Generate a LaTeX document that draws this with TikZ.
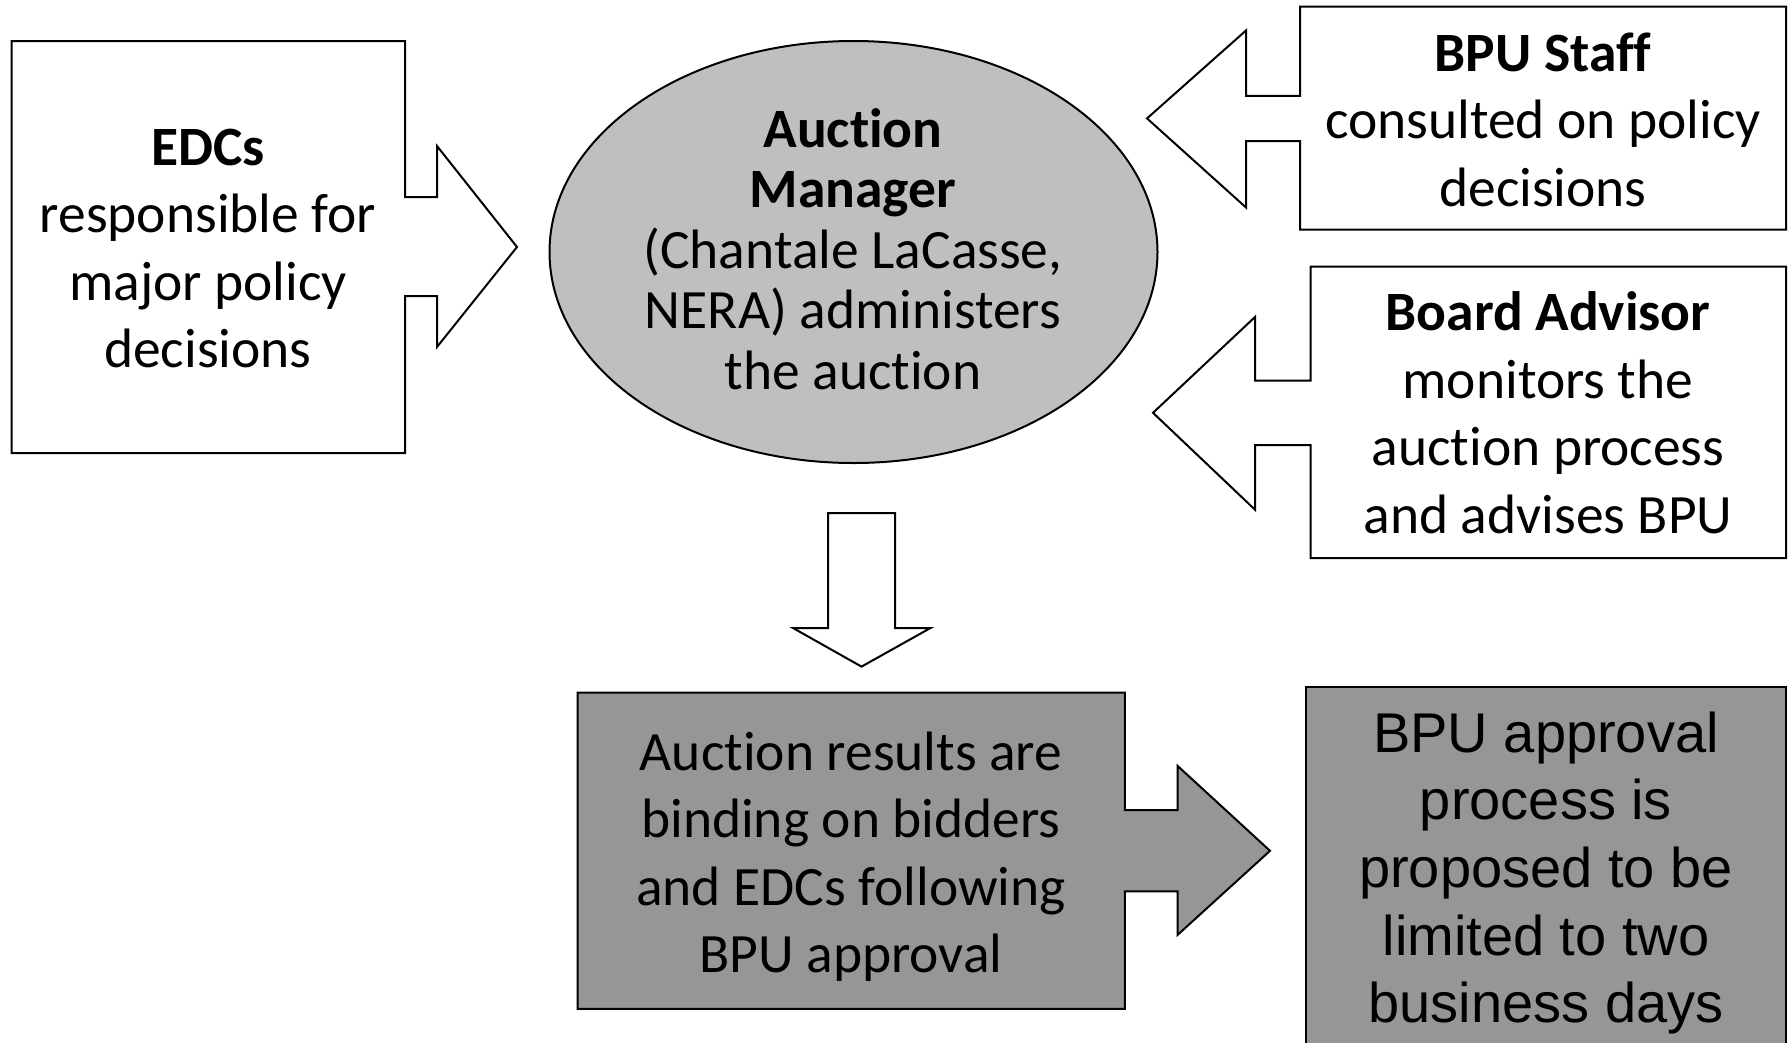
\documentclass[tikz,border=0pt]{standalone}
\usepackage{fontspec}
\setmainfont{Carlito}[Ligatures=NoCommon]
\newfontfamily\arialfont{Liberation Sans}
\begin{document}
\begin{tikzpicture}[x=1pt,y=-1pt,
  outl/.style={draw=black,line width=2pt,line join=miter},
  whiteshape/.style={outl,fill=white},
  lightshape/.style={outl,fill=black!25},
  darkshape/.style={outl,fill=black!41},
  txt/.style={align=center,inner sep=0pt,font=\fontsize{55.5}{67.5}\selectfont},
  txttight/.style={align=center,inner sep=0pt,font=\fontsize{55.5}{60.5}\selectfont},
  txtarial/.style={align=center,inner sep=0pt,font=\arialfont\fontsize{56}{67.6}\selectfont}]
\clip (0,0) rectangle (1788,1042);
\fill[white] (0,0) rectangle (1788,1042);
% EDCs callout
\draw[whiteshape] (11.5,41) -- (405,41) -- (405,197) -- (437,197) -- (437,146) -- (517,247)
  -- (437,347) -- (437,296) -- (405,296) -- (405,453) -- (11.5,453) -- cycle;
% Auction manager ellipse
\draw[lightshape] (853.5,252) ellipse [x radius=304, y radius=211];
% BPU Staff callout
\draw[whiteshape] (1300,6.5) -- (1786,6.5) -- (1786,229.7) -- (1300,229.7) -- (1300,141)
  -- (1246,141) -- (1246,207.5) -- (1147,118.4) -- (1246,30.5) -- (1246,95.8) -- (1300,95.8) -- cycle;
% Board Advisor callout
\draw[whiteshape] (1310.5,266.7) -- (1786,266.7) -- (1786,558) -- (1310.5,558) -- (1310.5,445)
  -- (1255,445) -- (1255,509.7) -- (1153,412.8) -- (1255,317) -- (1255,380.5) -- (1310.5,380.5) -- cycle;
% Down arrow
\draw[whiteshape] (828,513) -- (895,513) -- (895,628) -- (930.5,628) -- (861.5,666.6)
  -- (793,628) -- (828,628) -- cycle;
% Auction results callout
\draw[darkshape] (577.6,692.5) -- (1124.8,692.5) -- (1124.8,810) -- (1177.7,810) -- (1177.7,766)
  -- (1270,850.8) -- (1177.7,934.8) -- (1177.7,891.3) -- (1124.8,891.3) -- (1124.8,1008.8)
  -- (577.6,1008.8) -- cycle;
% BPU approval box
\draw[darkshape] (1305.6,686.7) rectangle (1786,1070);
% Texts
\node[txt] (edc) at (208,248.5) {\textbf{EDCs}\\responsible for\\major policy\\decisions};
\node[txttight] (mgr) at (853,249) {\textbf{Auction}\\\textbf{Manager}\\(Chantale LaCasse,\\NERA) administers\\the auction};
\node[txt] (staff) at (1543,119.5) {\textbf{BPU Staff}\\consulted on policy\\decisions};
\node[txt] (advisor) at (1548,412.5) {\textbf{Board Advisor}\\monitors the\\auction process\\and advises BPU};
\node[txt] (results) at (851,856.5) {Auction results are\\binding on bidders\\and EDCs following\\BPU approval};
\node[txtarial] (approval) at (1546,873) {BPU approval\\process is\\proposed to be\\limited to two\\business days};
\end{tikzpicture}
\end{document}
